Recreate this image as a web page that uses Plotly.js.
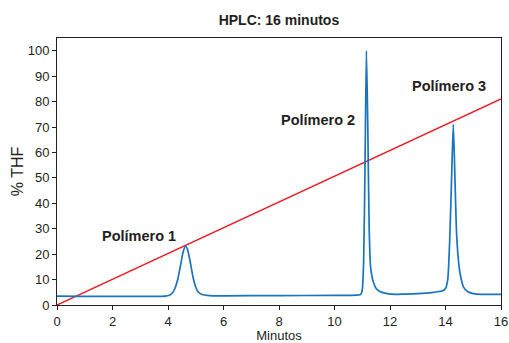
<!DOCTYPE html>
<html>
<head>
<meta charset="utf-8">
<script src="https://cdn.plot.ly/plotly-3.0.1.min.js"></script>
<style>html,body{margin:0;padding:0;background:#fff;}#chart{width:509px;height:343px;}</style>
</head>
<body>
<div id="chart"></div>
<script>
// Chromatogram (minutes, signal scaled to %)
var timeMin = [0, 3.9, 4.05, 4.15, 4.25, 4.35, 4.45, 4.55, 4.63, 4.7, 4.8, 4.9, 5.0, 5.1, 5.2, 5.4, 5.6, 6, 8, 10, 10.8, 10.95, 11.0, 11.05, 11.1, 11.15, 11.2, 11.25, 11.3, 11.4, 11.5, 11.65, 11.9, 12.2, 12.5, 13, 13.5, 13.9, 14.0, 14.08, 14.15, 14.22, 14.28, 14.34, 14.4, 14.48, 14.55, 14.65, 14.8, 15.0, 15.3, 16];
var signal  = [3.5, 3.5, 3.8, 4.6, 6.5, 10, 15.5, 21, 23.2, 22, 17, 11, 7, 5, 4.2, 3.8, 3.6, 3.6, 3.7, 3.8, 3.9, 4.2, 6, 17, 55, 100, 70, 30, 15, 9, 6.5, 5.2, 4.5, 4.2, 4.3, 4.5, 4.9, 5.6, 6.5, 10, 25, 50, 71, 50, 28, 16, 11, 7, 5.2, 4.5, 4.2, 4.2];
// THF gradient
var gradTime = [0, 16];
var gradTHF  = [0, 81];
// Labels
var labelText = ["Polímero 1", "Polímero 2", "Polímero 3"];
var labelX = [2.95, 9.41, 14.11];
var labelY = [27.2, 72.8, 86.2];

var txt = '#231f20';
var ann = labelText.map(function(t, i){
  return {x: labelX[i], y: labelY[i], xref:'x', yref:'y', text: '<b>' + t + '</b>', showarrow:false,
          font:{family:'Liberation Sans, Arial, sans-serif', size:14.5, color:txt}};
});

var data = [
  {x: gradTime, y: gradTHF, mode:'lines', line:{color:'#ec1c24', width:1.5}, hoverinfo:'skip'},
  {x: timeMin, y: signal, mode:'lines', line:{color:'#1874bf', width:1.7, shape:'spline', smoothing:0.6}, hoverinfo:'skip'}
];
var axisCommon = {showline:true, linecolor:'#231f20', linewidth:1, mirror:true, ticks:'outside', ticklen:4, tickcolor:'#231f20', showgrid:false, zeroline:false,
  tickfont:{family:'Liberation Sans, Arial, sans-serif', size:13, color:txt}};
var layout = {
  width:509, height:343,
  margin:{l:57, r:8, t:38, b:38},
  paper_bgcolor:'#fff', plot_bgcolor:'#fff',
  showlegend:false,
  title:{text:'<b>HPLC: 16 minutos</b>', x:0.548, xanchor:'center', y:0.94, yanchor:'middle',
         font:{family:'Liberation Sans, Arial, sans-serif', size:14, color:txt}},
  xaxis: Object.assign({}, axisCommon, {range:[0,16], tickvals:[0,2,4,6,8,10,12,14,16],
    title:{text:'Minutos', standoff:6, font:{family:'Liberation Sans, Arial, sans-serif', size:13, color:txt}}}),
  yaxis: Object.assign({}, axisCommon, {range:[0,105], tickvals:[0,10,20,30,40,50,60,70,80,90,100],
    title:{text:'% THF', standoff:0, font:{family:'Liberation Sans, Arial, sans-serif', size:16, color:txt}}}),
  annotations: ann
};
Plotly.newPlot('chart', data, layout, {displayModeBar:false, staticPlot:true});
</script>
</body>
</html>
